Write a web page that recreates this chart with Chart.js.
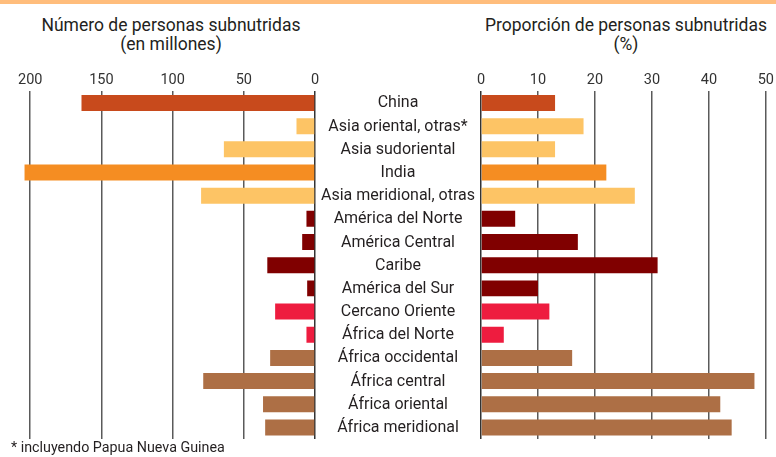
<!DOCTYPE html>
<html lang="es">
<head>
<meta charset="utf-8">
<script src="https://cdn.jsdelivr.net/npm/chart.js@4/dist/chart.umd.min.js"></script>
<style>
  html, body { margin:0; padding:0; background:#fff; }
  body { width:776px; height:457px; position:relative; overflow:hidden; font-family: Roboto, "Noto Sans", sans-serif; color:#231f20; }
  #stripe { position:absolute; left:0; top:0; width:776px; height:4px; background:#FFBD7C; }
  .title { position:absolute; top:16px; font-size:17.5px; line-height:19px; text-align:center; white-space:nowrap; color:#231f20; }
  #titleL { left:0; width:342px; }
  #titleR { left:476px; width:300px; }
  #note { position:absolute; left:11px; top:439px; font-size:14.3px; line-height:16px; color:#231f20; white-space:nowrap; }
  #cL { position:absolute; left:0; top:0; }
  #cR { position:absolute; left:315px; top:0; }
</style>
</head>
<body>
<div id="stripe"></div>
<div class="title" id="titleL">Número de personas subnutridas<br>(en millones)</div>
<div class="title" id="titleR">Proporción de personas subnutridas<br>(%)</div>
<canvas id="cL" width="330" height="457"></canvas>
<canvas id="cR" width="461" height="457"></canvas>
<div id="note">* incluyendo Papua Nueva Guinea</div>
<script>
// ---- data ----
const categories = [
  "China", "Asia oriental, otras*", "Asia sudoriental", "India", "Asia meridional, otras",
  "América del Norte", "América Central", "Caribe", "América del Sur",
  "Cercano Oriente", "África del Norte",
  "África occidental", "África central", "África oriental", "África meridional"
];
const regionGroup = [
  "china", "asiaOther", "asiaOther", "india", "asiaOther",
  "america", "america", "america", "america",
  "nearEast", "nearEast",
  "africa", "africa", "africa", "africa"
];
const undernourishedMillions = [164, 13, 64, 204, 80, 6, 9, 33.5, 5.5, 28, 6, 31.5, 78.5, 36.5, 35];
const undernourishedPercent  = [13, 18, 13, 22, 27, 6, 17, 31, 10, 12, 4, 16, 48, 42, 44];
const leftTicks  = [0, 50, 100, 150, 200];
const rightTicks = [0, 10, 20, 30, 40, 50];

// ---- styles ----
const groupColors = {
  china: "#C84A1C", asiaOther: "#FDC465", india: "#F58D22",
  america: "#800000", nearEast: "#EE1C3F", africa: "#AD6F45"
};
const barColors = regionGroup.map(g => groupColors[g]);
const tickFont = { family: "Roboto", size: 14.5 };
const gridColor = ctx => (ctx.tick && ctx.tick.value === 0) ? "#333333" : "#5a5a5a";

Chart.defaults.font.family = "Roboto";

function xScale(min, max, ticksList, reverse) {
  return {
    position: "top", reverse: reverse, min: min, max: max,
    afterBuildTicks: s => { s.ticks = ticksList.map(v => ({ value: v })); },
    ticks: { padding: 2, color: "#333", font: tickFont, maxRotation: 0 },
    grid: { drawTicks: false, color: gridColor, lineWidth: 1.5 },
    border: { display: false }
  };
}

const common = {
  responsive: false, animation: false, devicePixelRatio: 1, indexAxis: "y",
  plugins: { legend: { display: false }, tooltip: { enabled: false } }
};

new Chart(document.getElementById("cL"), {
  type: "bar",
  data: { labels: categories, datasets: [{ data: undernourishedMillions, backgroundColor: barColors, barPercentage: 0.69, categoryPercentage: 1 }] },
  options: Object.assign({}, common, {
    layout: { padding: { left: 16, right: 15, top: 70, bottom: 18 } },
    scales: { x: xScale(0, 210, leftTicks, true), y: { display: false } }
  })
});

const centerLabels = {
  id: "centerLabels",
  afterDraw(chart) {
    const c = chart.ctx, y = chart.scales.y;
    const cx = chart.chartArea.left - 83;
    c.save();
    c.font = "16px Roboto";
    c.fillStyle = "#231f20";
    c.textAlign = "center";
    c.textBaseline = "middle";
    categories.forEach((lab, i) => c.fillText(lab, cx, y.getPixelForValue(i) + 0.5));
    c.restore();
  }
};

new Chart(document.getElementById("cR"), {
  type: "bar",
  data: { labels: categories, datasets: [{ data: undernourishedPercent, backgroundColor: barColors, barPercentage: 0.69, categoryPercentage: 1 }] },
  options: Object.assign({}, common, {
    layout: { padding: { left: 166, right: 10, top: 70, bottom: 18 } },
    scales: { x: xScale(0, 50, rightTicks, false), y: { display: false } }
  }),
  plugins: [centerLabels]
});
</script>
</body>
</html>
